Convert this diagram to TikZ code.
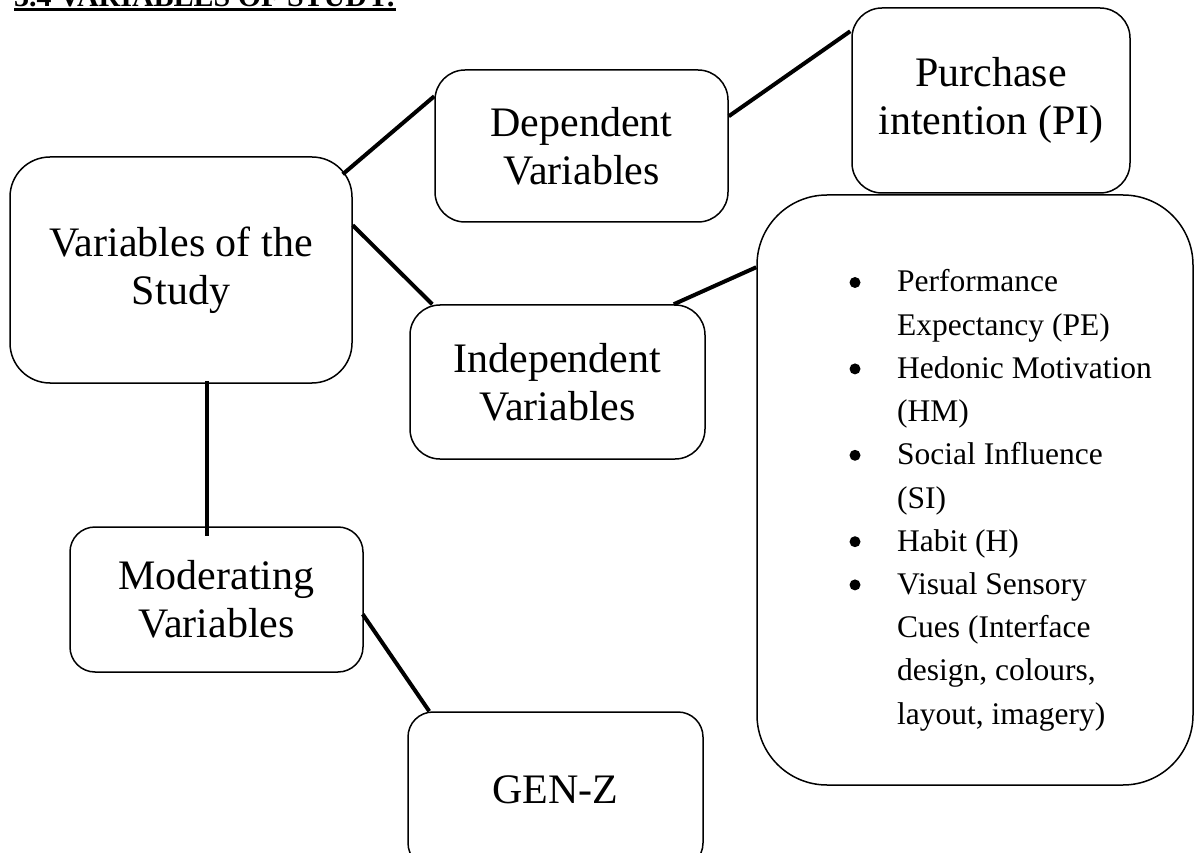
\documentclass[tikz,border=0pt]{standalone}
\usepackage{fontspec}
\setmainfont{Liberation Serif}
\usetikzlibrary{calc}
\begin{document}
\begin{tikzpicture}[x=1pt,y=-1pt,
  box/.style={draw, line width=1.5pt, rounded corners=#1, inner sep=0pt,
    align=center, font=\fontsize{42}{48}\selectfont},
  box/.default=30pt,
  link/.style={line width=4pt},
  item/.style={anchor=base west, inner sep=0pt, font=\fontsize{31.5}{43.2}\selectfont},
  bulletdot/.style={circle, fill, inner sep=0pt, minimum size=11pt},
  titlefont/.style={anchor=base west, inner sep=0pt, font=\bfseries\fontsize{30}{36}\selectfont}]
\useasboundingbox (0,0) rectangle (1195,853);
\clip (0,0) rectangle (1195,853);

% title (cut at the top)
\node[titlefont] (title) at (14,6.5) {3.4 VARIABLES OF STUDY:};
\fill ($(title.base west)+(0,1.5)$) rectangle ($(title.base east)+(0,5)$);

% boxes
\node[box=40pt, minimum width=342pt, minimum height=226pt] (var) at (181,270) {Variables of the\\Study};
\node[box=30pt, minimum width=293pt, minimum height=152pt] (dep) at (581.5,146) {Dependent\\Variables};
\node[box=30pt, minimum width=278pt, minimum height=185pt] (pur) at (991,100.5) {Purchase\\intention (PI)};
\node[box=30pt, minimum width=295pt, minimum height=154pt] (ind) at (557.5,382) {Independent\\Variables};
\node[box=70pt, minimum width=436pt, minimum height=590pt] (list) at (975,490) {};
\node[box=25pt, minimum width=293pt, minimum height=145pt] (mod) at (216.5,599.5) {Moderating\\Variables};
\node[box=25pt, minimum width=295pt, minimum height=156pt] (gen) at (555.5,790) {GEN-Z};

% list text
\foreach \t [count=\i] in {Performance, Expectancy (PE), Hedonic Motivation, (HM),
  Social Influence, (SI), Habit (H), Visual Sensory, {Cues (Interface}, {design, colours,}, {layout, imagery)}}
  \node[item] (l\i) at (897,{292+43.2*(\i-1)}) {\t};
\foreach \i in {1,3,5,7,8}
  \node[bulletdot] (b\i) at (855,{282.5+43.2*(\i-1)}) {};

% connectors
\draw[link] ($(var.north east)+(-10,18)$) -- ($(dep.north west)+(0,27)$);
\draw[link] ($(dep.north east)+(0,47)$) -- ($(pur.north west)+(-1,24)$);
\draw[link] ($(var.north east)+(0,69)$) -- ($(ind.north west)+(23,0)$);
\draw[link] ($(ind.north east)+(-32,0)$) -- ($(list.north west)+(0,73)$);
\draw[link] ($(var.south west)+(198,-3)$) -- ($(mod.north west)+(138,10)$);
\draw[link] ($(mod.north east)+(-1,88)$) -- ($(gen.north west)+(22,0)$);
\end{tikzpicture}
\end{document}
